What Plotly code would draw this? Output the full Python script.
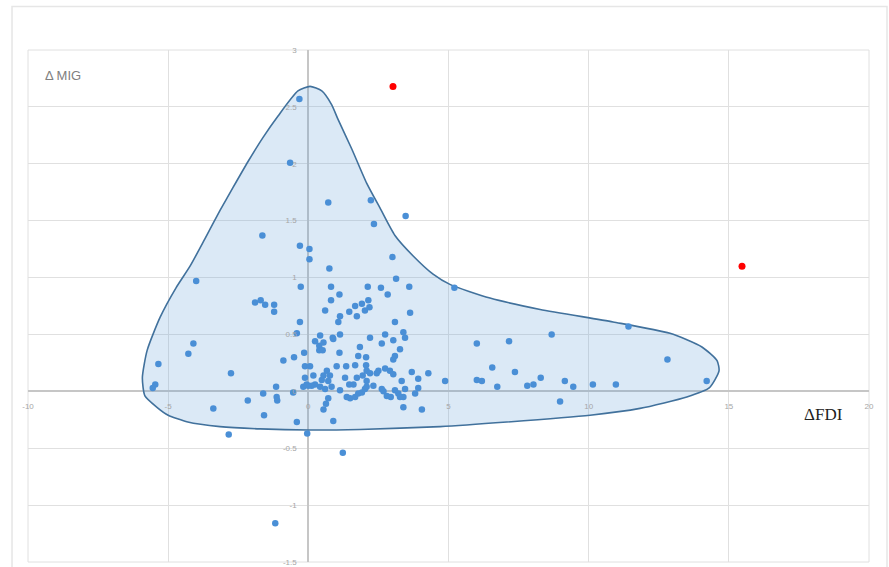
import plotly.graph_objects as go

# ---- data ----
blue_x = [-0.32, -0.65, 0.71, 2.23, 2.34, 3.47, -1.64, -0.30, 0.04, 0.04, 0.75, 3.0, 3.13, -4.0, -0.27, 0.81, 2.12, 2.59, 3.6,
          -1.9, -1.70, -1.54, -1.22, -1.22, -0.30, -4.1, -4.28, -5.35, -5.46, -5.55, -2.76, -0.89, -0.51, -0.15, -2.16, -3.39,
          -1.61, -1.15, -1.13, -1.11, -1.58, -0.54, -0.41, -2.84, -0.04, 1.23, -1.18, 0.54, 0.89, 3.39, 4.05, 2.83, 1.11, 0.81,
          0.60, 1.13, 1.07, 1.46, 1.67, 1.73, 1.91, 2.02, 2.14, 2.18, 3.63, 3.09, 2.74, 2.62, 3.03, 3.39, 3.45, 3.27, 3.09, 3.03,
          2.2, 1.84, 1.78, 2.06, 2.06, 1.13, 1.11, 0.87, 0.42, 0.24, 0.39, 0.54, 0.39, 0.51, 2.5, 2.74, 2.91, 3.03, 3.69, 3.92,
          4.28, 4.88, 3.33, 3.45, 3.09, 2.62, 2.8, 2.94, 3.21, 3.39, 3.81, 3.92, -0.12, 0.06, -0.12, 0.18, -0.18, 0.0, 0.24,
          0.48, 0.54, 0.66, 0.6, 0.42, 0.83, 0.71, 0.63, 1.01, 1.35, 1.67, 1.13, 1.31, 1.46, 1.61, 1.73, 1.37, 1.49, 1.67, 1.78,
          1.91, 2.02, 2.08, 1.94, 2.08, 0.77, 0.71, -0.41, 0.89,
          5.21, 6.01, 7.16, 8.68, 11.42, 12.81, 14.21, 6.56, 7.37, 6.01, 6.19, 6.74, 7.81, 8.03, 8.29, 9.15, 9.45, 10.15, 10.97,
          8.98, -0.06, 0.12, 2.08, 2.32, 2.2, 2.44, 2.68, 3.27]
blue_y = [2.57, 2.01, 1.66, 1.68, 1.47, 1.54, 1.37, 1.28, 1.25, 1.16, 1.08, 1.18, 0.99, 0.97, 0.92, 0.92, 0.92, 0.91, 0.92,
          0.78, 0.80, 0.76, 0.76, 0.70, 0.61, 0.42, 0.33, 0.24, 0.06, 0.03, 0.16, 0.27, 0.30, 0.34, -0.08, -0.15,
          -0.02, 0.04, -0.05, -0.08, -0.21, -0.01, -0.27, -0.38, -0.37, -0.54, -1.16, -0.16, -0.26, -0.14, -0.16, 0.85, 0.85, 0.80,
          0.71, 0.66, 0.61, 0.70, 0.75, 0.66, 0.77, 0.71, 0.80, 0.74, 0.69, 0.61, 0.50, 0.42, 0.45, 0.52, 0.47, 0.37, 0.31, 0.28,
          0.47, 0.39, 0.31, 0.30, 0.23, 0.50, 0.34, 0.47, 0.49, 0.44, 0.40, 0.43, 0.36, 0.36, 0.18, 0.20, 0.18, 0.15, 0.17, 0.11,
          0.16, 0.09, 0.09, 0.02, 0.01, 0.02, -0.04, -0.05, -0.02, -0.05, -0.02, 0.03, 0.22, 0.22, 0.12, 0.14, 0.04, 0.05, 0.06,
          0.10, 0.14, 0.18, 0.02, 0.04, 0.04, -0.06, -0.11, 0.22, 0.22, 0.23, 0.01, 0.12, 0.06, 0.06, 0.12, -0.05, -0.06, -0.05, -0.02,
          -0.01, 0.02, 0.09, 0.14, 0.18, 0.14, 0.09, 0.51, 0.46,
          0.91, 0.42, 0.44, 0.50, 0.57, 0.28, 0.09, 0.21, 0.17, 0.10, 0.09, 0.04, 0.05, 0.06, 0.12, 0.09, 0.04, 0.06, 0.06,
          -0.09, 0.06, 0.05, 0.04, 0.05, 0.16, 0.16, 0.0, -0.05]

red_x = [3.02, 15.47]
red_y = [2.68, 1.10]

# outline of the shaded region (clockwise from the peak)
hull_x = [0.06, 0.48, 0.83, 1.06, 1.55, 2.08, 2.56, 3.09, 3.74, 4.45, 5.05, 6.48, 8.27, 10.87, 12.9, 14.04, 14.58, 14.65,
          14.3, 13.5, 11.83, 10.05, 7.08, 4.7, 1.84, 0.0, -1.72, -3.15, -4.3, -5.0, -5.4, -5.83, -5.92, -5.75, -5.29, -4.72,
          -4.22, -3.69, -3.15, -2.69, -2.15, -1.62, -1.08, -0.37, 0.06]
hull_y = [2.68, 2.64, 2.52, 2.39, 2.13, 1.83, 1.61, 1.37, 1.19, 1.03, 0.94, 0.82, 0.72, 0.61, 0.51, 0.39, 0.27, 0.18,
          0.03, -0.05, -0.15, -0.21, -0.27, -0.31, -0.335, -0.34, -0.33, -0.31, -0.27, -0.21, -0.14, -0.04, 0.12, 0.36, 0.65, 0.91,
          1.10, 1.34, 1.59, 1.79, 2.02, 2.23, 2.42, 2.64, 2.68]

x_ticks = [-10, -5, 0, 5, 10, 15, 20]
y_ticks = [-1.5, -1, -0.5, 0, 0.5, 1, 1.5, 2, 2.5, 3]

fig = go.Figure()
fig.add_trace(go.Scatter(x=hull_x, y=hull_y, mode="lines", fill="toself",
                         fillcolor="rgba(91,155,213,0.22)",
                         line=dict(color="#41719C", width=1.6, shape="spline", smoothing=0.6),
                         hoverinfo="skip", showlegend=False))
fig.add_trace(go.Scatter(x=blue_x, y=blue_y, mode="markers",
                         marker=dict(color="#4a8fd6", size=6.5, line=dict(width=0)), showlegend=False))
fig.add_trace(go.Scatter(x=red_x, y=red_y, mode="markers",
                         marker=dict(color="#ff0000", size=7, line=dict(width=0)), showlegend=False))

tickfont = dict(family="Liberation Sans", size=8, color="#a6a6a6")
fig.update_xaxes(range=[-10, 20], tickvals=x_ticks, ticktext=[str(v) for v in x_ticks],
                 showgrid=True, gridcolor="#e0e0e0", gridwidth=1,
                 zeroline=True, zerolinecolor="#c6c6c6", zerolinewidth=2,
                 anchor="free", position=1/3, ticks="outside", ticklen=7, tickcolor="rgba(0,0,0,0)",
                 tickfont=tickfont, showline=False, automargin=False)
fig.update_yaxes(range=[-1.5, 3], tickvals=y_ticks, ticktext=[f"{v:g}" for v in y_ticks],
                 showgrid=True, gridcolor="#e0e0e0", gridwidth=1,
                 zeroline=True, zerolinecolor="#c6c6c6", zerolinewidth=2,
                 anchor="free", position=1/3, ticks="outside", ticklen=10, tickcolor="rgba(0,0,0,0)",
                 tickfont=tickfont, showline=False, automargin=False)

fig.add_shape(type="rect", xref="x domain", yref="y domain", x0=0, x1=1, y0=0, y1=1,
              line=dict(color="#e0e0e0", width=1), layer="below")
fig.add_shape(type="rect", xref="paper", yref="paper", x0=-0.019, x1=1.0214, y0=-0.05, y1=1.085,
              line=dict(color="#e6e6e6", width=1.5), layer="below")

fig.add_annotation(x=-9.45, y=2.78, xref="x", yref="y", text="Δ MIG", showarrow=False,
                   xanchor="left", yanchor="middle",
                   font=dict(family="Liberation Sans", size=13, color="#808080"))
fig.add_annotation(x=17.6, y=-0.2, xref="x", yref="y", text="ΔFDI", showarrow=False,
                   xanchor="left", yanchor="middle",
                   font=dict(family="Liberation Serif", size=17, color="#222222"))

fig.update_layout(width=889, height=567, margin=dict(l=28, r=20, t=50, b=5, autoexpand=False),
                  paper_bgcolor="white", plot_bgcolor="white", showlegend=False)

fig.write_html("out.html", config={"displayModeBar": False},
               post_script="document.body.style.margin='0px';")
